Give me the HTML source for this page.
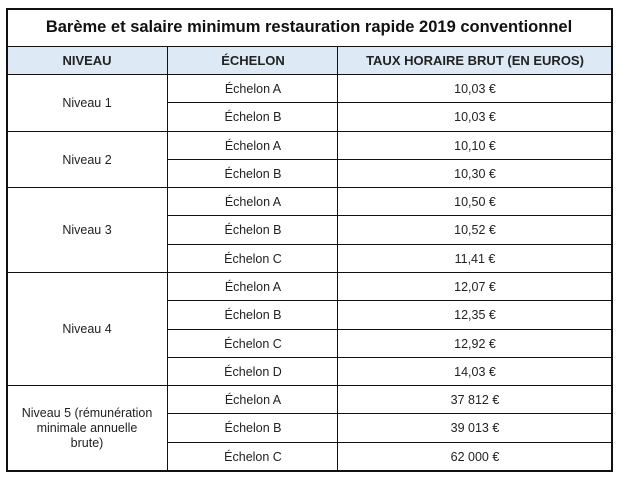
<!DOCTYPE html>
<html><head><meta charset="utf-8"><style>
body{margin:0;width:620px;height:481px;background:#fff;font-family:"Liberation Sans",sans-serif;color:#222;position:relative;overflow:hidden}
.b{position:absolute;box-sizing:border-box}
.t{position:absolute;text-align:center;font-size:12.5px;display:flex;align-items:center;justify-content:center;line-height:15px}
</style></head><body>
<div class="b" style="left:6px;top:46px;width:606px;height:29px;background:#dde9f5"></div>
<div class="b" style="left:6px;top:8px;width:607px;height:464px;border:2px solid #111"></div>
<div class="b" style="left:6px;top:46px;width:606px;height:1px;background:#111"></div>
<div class="b" style="left:6px;top:74px;width:606px;height:1px;background:#111"></div>
<div class="b" style="left:167px;top:46px;width:1px;height:426px;background:#111"></div>
<div class="b" style="left:337px;top:46px;width:1px;height:426px;background:#111"></div>
<div class="t" style="left:6px;top:8px;width:606px;height:38px;font-size:16.5px;font-weight:bold;color:#111">Barème et salaire minimum restauration rapide 2019 conventionnel</div>
<div class="t" style="left:6px;top:46px;width:162px;height:29px;font-weight:bold;font-size:13px">NIVEAU</div>
<div class="t" style="left:168px;top:46px;width:170px;height:29px;font-weight:bold;font-size:13px">ÉCHELON</div>
<div class="t" style="left:338px;top:46px;width:274px;height:29px;font-weight:bold;font-size:13px">TAUX HORAIRE BRUT (EN EUROS)</div>
<div id="rows"></div>
<script>
var H=28.29,T=75;
var ech=["A","B","A","B","A","B","C","A","B","C","D","A","B","C"];
var val=["10,03 €","10,03 €","10,10 €","10,30 €","10,50 €","10,52 €","11,41 €","12,07 €","12,35 €","12,92 €","14,03 €","37 812 €","39 013 €","62 000 €"];
var groupEnd=[2,4,7,11];
var h="";
function Y(i){return Math.round(T+i*H);}
for(var i=0;i<14;i++){var y=Y(i),hh=Y(i+1)-y;
 if(i>0){var full=groupEnd.indexOf(i)>=0;h+='<div class="b" style="left:'+(full?6:168)+'px;top:'+(y-1)+'px;width:'+(full?606:444)+'px;height:1px;background:#111"></div>';}
 h+='<div class="t" style="left:168px;top:'+y+'px;width:170px;height:'+hh+'px">Échelon '+ech[i]+'</div>';
 h+='<div class="t" style="left:338px;top:'+y+'px;width:274px;height:'+hh+'px">'+val[i]+'</div>';}
var g=[[0,2,"Niveau 1"],[2,4,"Niveau 2"],[4,7,"Niveau 3"],[7,11,"Niveau 4"],[11,14,"Niveau 5 (rémunération<br>minimale annuelle<br>brute)"]];
g.forEach(function(a){h+='<div class="t" style="left:6px;top:'+Y(a[0])+'px;width:162px;height:'+(Y(a[1])-Y(a[0]))+'px">'+a[2]+'</div>';});
document.getElementById("rows").innerHTML=h;
</script>
</body></html>
